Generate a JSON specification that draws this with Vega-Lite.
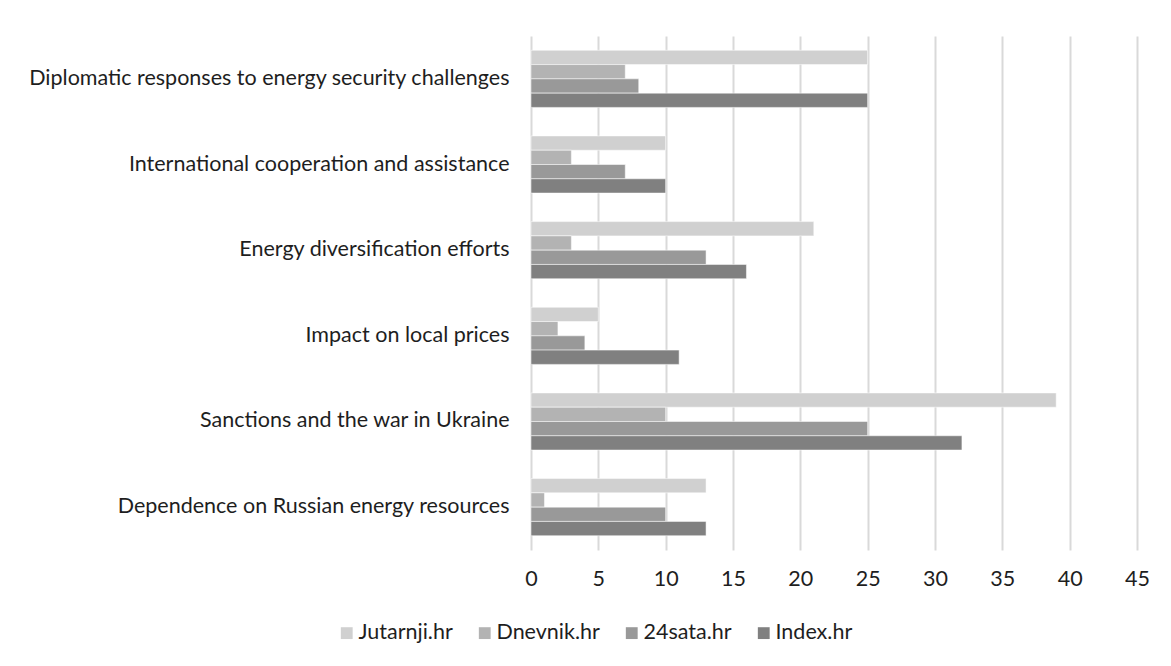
{
  "$schema": "https://vega.github.io/schema/vega-lite/v6.json",
  "width": 606,
  "height": 514,
  "autosize": {"type": "none"},
  "padding": {"left": 531, "top": 36, "right": 34, "bottom": 116},
  "background": "white",
  "config": {
    "font": "Lato",
    "view": {"stroke": null}
  },
  "data": {
    "values": [
      {"topic": "Diplomatic responses to energy security challenges", "outlet": "Jutarnji.hr", "count": 25},
      {"topic": "Diplomatic responses to energy security challenges", "outlet": "Dnevnik.hr", "count": 7},
      {"topic": "Diplomatic responses to energy security challenges", "outlet": "24sata.hr", "count": 8},
      {"topic": "Diplomatic responses to energy security challenges", "outlet": "Index.hr", "count": 25},
      {"topic": "International cooperation and assistance", "outlet": "Jutarnji.hr", "count": 10},
      {"topic": "International cooperation and assistance", "outlet": "Dnevnik.hr", "count": 3},
      {"topic": "International cooperation and assistance", "outlet": "24sata.hr", "count": 7},
      {"topic": "International cooperation and assistance", "outlet": "Index.hr", "count": 10},
      {"topic": "Energy diversification efforts", "outlet": "Jutarnji.hr", "count": 21},
      {"topic": "Energy diversification efforts", "outlet": "Dnevnik.hr", "count": 3},
      {"topic": "Energy diversification efforts", "outlet": "24sata.hr", "count": 13},
      {"topic": "Energy diversification efforts", "outlet": "Index.hr", "count": 16},
      {"topic": "Impact on local prices", "outlet": "Jutarnji.hr", "count": 5},
      {"topic": "Impact on local prices", "outlet": "Dnevnik.hr", "count": 2},
      {"topic": "Impact on local prices", "outlet": "24sata.hr", "count": 4},
      {"topic": "Impact on local prices", "outlet": "Index.hr", "count": 11},
      {"topic": "Sanctions and the war in Ukraine", "outlet": "Jutarnji.hr", "count": 39},
      {"topic": "Sanctions and the war in Ukraine", "outlet": "Dnevnik.hr", "count": 10},
      {"topic": "Sanctions and the war in Ukraine", "outlet": "24sata.hr", "count": 25},
      {"topic": "Sanctions and the war in Ukraine", "outlet": "Index.hr", "count": 32},
      {"topic": "Dependence on Russian energy resources", "outlet": "Jutarnji.hr", "count": 13},
      {"topic": "Dependence on Russian energy resources", "outlet": "Dnevnik.hr", "count": 1},
      {"topic": "Dependence on Russian energy resources", "outlet": "24sata.hr", "count": 10},
      {"topic": "Dependence on Russian energy resources", "outlet": "Index.hr", "count": 13}
    ]
  },
  "mark": {"type": "bar", "stroke": "#ffffff", "strokeWidth": 1, "strokeOpacity": 0.5},
  "encoding": {
    "y": {
      "field": "topic",
      "type": "nominal",
      "sort": null,
      "scale": {"paddingInner": 0.333, "paddingOuter": 0.1667},
      "axis": {
        "title": null,
        "domain": false,
        "ticks": false,
        "labelFontSize": 21.5,
        "labelColor": "#1e1e1e",
        "labelPadding": 22,
        "labelLimit": 600
      }
    },
    "yOffset": {
      "field": "outlet",
      "type": "nominal",
      "sort": ["Jutarnji.hr", "Dnevnik.hr", "24sata.hr", "Index.hr"],
      "scale": {"paddingInner": 0, "paddingOuter": 0}
    },
    "x": {
      "field": "count",
      "type": "quantitative",
      "scale": {"domain": [0, 45], "nice": false},
      "axis": {
        "title": null,
        "values": [0, 5, 10, 15, 20, 25, 30, 35, 40, 45],
        "domain": false,
        "ticks": false,
        "grid": true,
        "gridColor": "#d9d9d9",
        "gridWidth": 2,
        "labelFontSize": 21.5,
        "labelColor": "#1e1e1e",
        "labelPadding": 18,
        "labelFlush": false
      }
    },
    "color": {
      "field": "outlet",
      "type": "nominal",
      "sort": ["Jutarnji.hr", "Dnevnik.hr", "24sata.hr", "Index.hr"],
      "scale": {
        "domain": ["Jutarnji.hr", "Dnevnik.hr", "24sata.hr", "Index.hr"],
        "range": ["#d0d0d0", "#b3b3b3", "#999999", "#808080"]
      },
      "legend": {
        "title": null,
        "orient": "none",
        "direction": "horizontal",
        "legendX": -195,
        "legendY": 586,
        "symbolType": "square",
        "symbolSize": 140,
        "symbolStrokeWidth": 0,
        "labelFontSize": 21.5,
        "labelColor": "#1e1e1e",
        "labelOffset": 1,
        "columnPadding": 21
      }
    }
  }
}
